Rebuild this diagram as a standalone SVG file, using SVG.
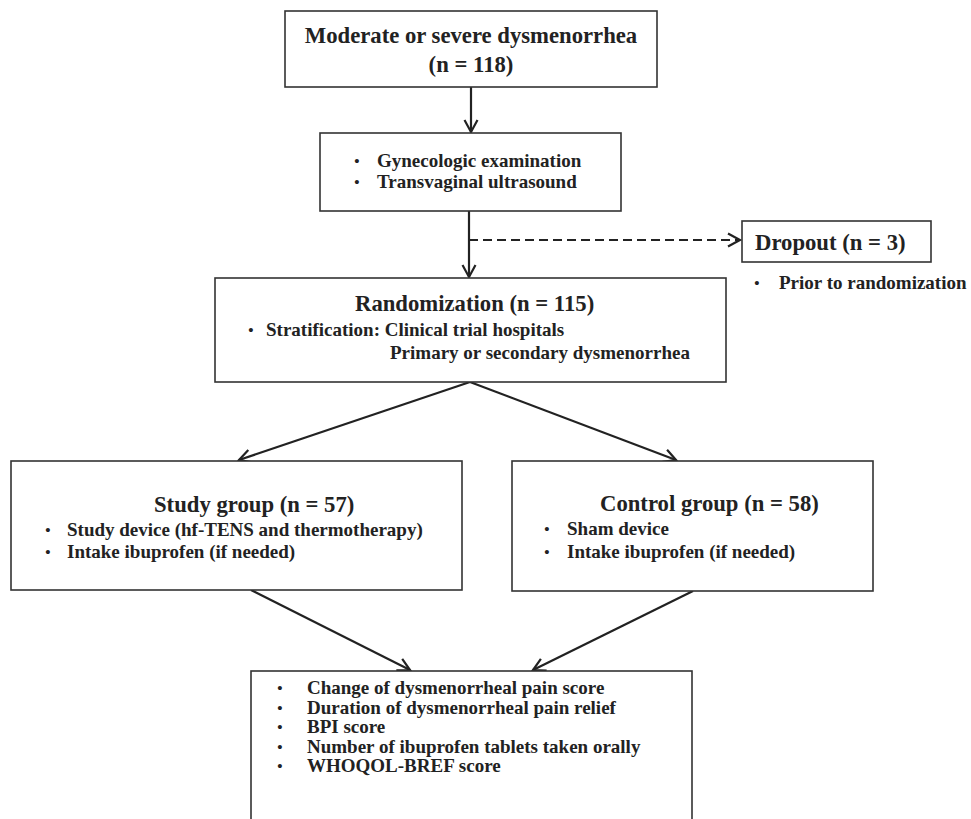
<svg xmlns="http://www.w3.org/2000/svg" width="971" height="819" viewBox="0 0 971 819">
<style>
.box{fill:#fff;stroke:#333;stroke-width:1.6}
text{font-family:"Liberation Serif","Times New Roman",serif;font-weight:bold;fill:#222}
.t{font-size:22.7px}
.b{font-size:19px}
.bul{font-size:15px}
.con{fill:none;stroke:#222;stroke-width:2.2}
.dash{stroke-dasharray:9 5}
</style>
<defs>
<marker id="ah" markerUnits="userSpaceOnUse" markerWidth="16" markerHeight="16" viewBox="0 0 16 16" refX="13" refY="8" orient="auto">
<path d="M1,1.5 L13,8 L1,14.5" fill="none" stroke="#222" stroke-width="2.2"/>
</marker>
</defs>
<rect width="971" height="819" fill="#fff"/>
<g id="connectors">
<line class="con" x1="471" y1="87" x2="471" y2="132" marker-end="url(#ah)"/>
<line class="con" x1="469" y1="211" x2="469" y2="277" marker-end="url(#ah)"/>
<line class="con dash" x1="469" y1="240" x2="740" y2="240" marker-end="url(#ah)"/>
<line class="con" x1="470" y1="382" x2="239" y2="460" marker-end="url(#ah)"/>
<line class="con" x1="470" y1="382" x2="676" y2="460" marker-end="url(#ah)"/>
<line class="con" x1="251" y1="590" x2="410" y2="670" marker-end="url(#ah)"/>
<line class="con" x1="693" y1="591" x2="533" y2="670" marker-end="url(#ah)"/>
</g>
<g id="n-start">
<rect class="box" x="285" y="11" width="372" height="76"/>
<text class="t" x="471" y="43" text-anchor="middle">Moderate or severe dysmenorrhea</text>
<text class="t" x="471" y="72" text-anchor="middle">(n = 118)</text>
</g>
<g id="n-exam">
<rect class="box" x="320" y="133" width="301" height="78"/>
<text class="bul" x="357" y="166" text-anchor="middle">•</text>
<text class="b" x="377" y="167">Gynecologic examination</text>
<text class="bul" x="357" y="187" text-anchor="middle">•</text>
<text class="b" x="377" y="188">Transvaginal ultrasound</text>
</g>
<g id="n-dropout">
<rect class="box" x="742" y="221" width="189" height="41"/>
<text class="t" x="755" y="250">Dropout (n = 3)</text>
<text class="bul" x="757" y="288" text-anchor="middle">•</text>
<text class="b" x="779" y="289">Prior to randomization</text>
</g>
<g id="n-random">
<rect class="box" x="215" y="278" width="511" height="104"/>
<text class="t" x="355" y="311">Randomization (n = 115)</text>
<text class="bul" x="251" y="335" text-anchor="middle">•</text>
<text class="b" x="266" y="336">Stratification: Clinical trial hospitals</text>
<text class="b" x="390" y="359">Primary or secondary dysmenorrhea</text>
</g>
<g id="n-study">
<rect class="box" x="11" y="461" width="451" height="129"/>
<text class="t" x="154" y="512">Study group (n = 57)</text>
<text class="bul" x="48" y="535" text-anchor="middle">•</text>
<text class="b" x="67" y="536">Study device (hf-TENS and thermotherapy)</text>
<text class="bul" x="48" y="557" text-anchor="middle">•</text>
<text class="b" x="67" y="558">Intake ibuprofen (if needed)</text>
</g>
<g id="n-control">
<rect class="box" x="512" y="461" width="361" height="130"/>
<text class="t" x="600" y="511">Control group (n = 58)</text>
<text class="bul" x="547" y="534" text-anchor="middle">•</text>
<text class="b" x="567" y="535">Sham device</text>
<text class="bul" x="547" y="557" text-anchor="middle">•</text>
<text class="b" x="567" y="558">Intake ibuprofen (if needed)</text>
</g>
<g id="n-outcomes">
<rect class="box" x="251" y="671" width="441" height="170"/>
<text class="bul" x="280" y="693" text-anchor="middle">•</text>
<text class="b" x="307" y="694">Change of dysmenorrheal pain score</text>
<text class="bul" x="280" y="712.5" text-anchor="middle">•</text>
<text class="b" x="307" y="713.5">Duration of dysmenorrheal pain relief</text>
<text class="bul" x="280" y="732" text-anchor="middle">•</text>
<text class="b" x="307" y="733">BPI score</text>
<text class="bul" x="280" y="751.5" text-anchor="middle">•</text>
<text class="b" x="307" y="752.5">Number of ibuprofen tablets taken orally</text>
<text class="bul" x="280" y="771" text-anchor="middle">•</text>
<text class="b" x="307" y="772">WHOQOL-BREF score</text>
</g>
</svg>
